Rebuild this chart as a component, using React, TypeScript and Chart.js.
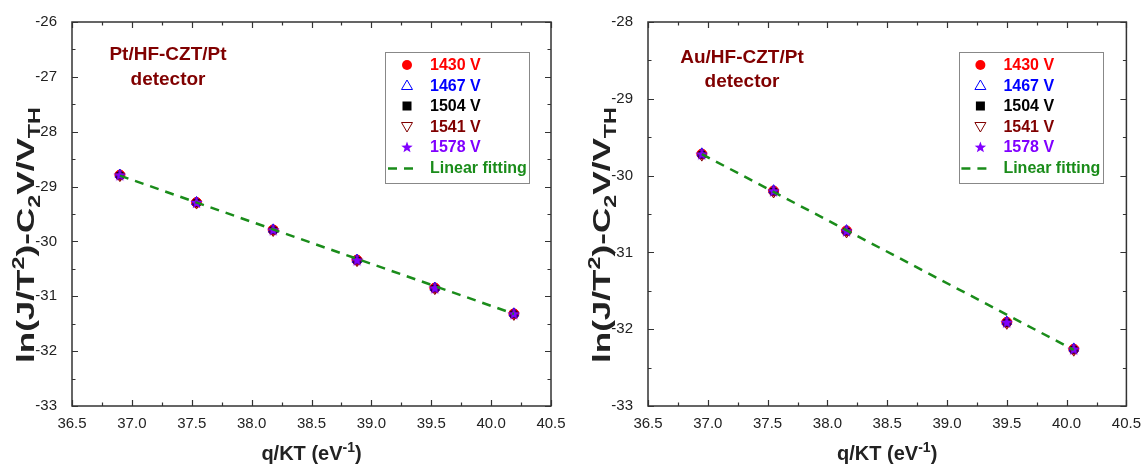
import React, { useEffect, useRef } from "react";
import { Chart, registerables } from "chart.js";

Chart.register(...registerables);

// ---------------- DATA ----------------
const seriesLabels = ["1430 V", "1467 V", "1504 V", "1541 V", "1578 V"];
const fitLabel = "Linear fitting";

// Left panel: Pt/HF-CZT/Pt detector
const leftX = [36.9, 37.54, 38.18, 38.88, 39.53, 40.19];
const leftY1430 = [-28.79, -29.29, -29.79, -30.34, -30.85, -31.32];
const leftY1467 = [-28.78, -29.28, -29.78, -30.33, -30.84, -31.31];
const leftY1504 = [-28.8, -29.3, -29.8, -30.35, -30.86, -31.33];
const leftY1541 = [-28.81, -29.31, -29.81, -30.36, -30.87, -31.34];
const leftY1578 = [-28.79, -29.29, -29.79, -30.34, -30.85, -31.32];
const leftFitX = [36.9, 40.19];
const leftFitY = [-28.8, -31.32];

// Right panel: Au/HF-CZT/Pt detector
const rightX = [36.95, 37.55, 38.16, 39.5, 40.06];
const rightY1430 = [-29.72, -30.2, -30.72, -31.91, -32.26];
const rightY1467 = [-29.71, -30.19, -30.71, -31.9, -32.25];
const rightY1504 = [-29.73, -30.21, -30.73, -31.92, -32.27];
const rightY1541 = [-29.74, -30.22, -30.74, -31.93, -32.28];
const rightY1578 = [-29.72, -30.2, -30.72, -31.91, -32.26];
const rightFitX = [36.95, 40.06];
const rightFitY = [-29.72, -32.27];

const xTicksMin = 36.5;
const xTicksMax = 40.5;
const leftYMin = -33;
const leftYMax = -26;
const rightYMin = -33;
const rightYMax = -28;

// ---------------- STYLE ----------------
const FONT = "'Liberation Sans', Arial, Helvetica, sans-serif";
const seriesColors = ["#ff0000", "#0000ff", "#000000", "#800000", "#8000ff"];
const fitColor = "#1a8c1a";
const annoColor = "#800000";

function makeStar(size: number, color: string) {
  const c = document.createElement("canvas");
  c.width = size;
  c.height = size;
  const g = c.getContext("2d")!;
  drawStar(g, size / 2, size / 2 + 0.5, size / 2, color);
  return c;
}

function drawStar(g: CanvasRenderingContext2D, cx: number, cy: number, R: number, color: string) {
  const r = R * 0.42;
  g.beginPath();
  for (let i = 0; i < 10; i++) {
    const a = -Math.PI / 2 + (i * Math.PI) / 5;
    const rr = i % 2 === 0 ? R : r;
    const px = cx + rr * Math.cos(a);
    const py = cy + rr * Math.sin(a);
    if (i === 0) g.moveTo(px, py);
    else g.lineTo(px, py);
  }
  g.closePath();
  g.fillStyle = color;
  g.fill();
}

function drawMarker(g: CanvasRenderingContext2D, idx: number, x: number, y: number) {
  const c = seriesColors[idx];
  g.save();
  g.lineWidth = 1;
  if (idx === 0) {
    g.beginPath();
    g.arc(x, y, 5, 0, Math.PI * 2);
    g.fillStyle = c;
    g.fill();
  } else if (idx === 1) {
    g.beginPath();
    g.moveTo(x, y - 5.5);
    g.lineTo(x + 5.5, y + 4);
    g.lineTo(x - 5.5, y + 4);
    g.closePath();
    g.strokeStyle = c;
    g.stroke();
  } else if (idx === 2) {
    g.fillStyle = c;
    g.fillRect(x - 4.5, y - 4.5, 9, 9);
  } else if (idx === 3) {
    g.beginPath();
    g.moveTo(x, y + 5.5);
    g.lineTo(x + 5.5, y - 4);
    g.lineTo(x - 5.5, y - 4);
    g.closePath();
    g.strokeStyle = c;
    g.stroke();
  } else {
    drawStar(g, x, y + 0.5, 6, c);
  }
  g.restore();
}

type Part = { t: string; s?: "sub" | "sup" };

function drawRich(
  g: CanvasRenderingContext2D,
  parts: Part[],
  cx: number,
  cy: number,
  size: number,
  color: string,
  targetWidth = 0
) {
  const small = Math.round(size * 0.68);
  const fontOf = (p: Part) => `bold ${p.s ? small : size}px ${FONT}`;
  let total = 0;
  const widths: number[] = [];
  for (const p of parts) {
    g.font = fontOf(p);
    const w = g.measureText(p.t).width;
    widths.push(w);
    total += w;
  }
  g.save();
  g.translate(cx, cy);
  if (targetWidth > 0) g.scale(targetWidth / total, 1);
  let x = -total / 2;
  g.fillStyle = color;
  g.textBaseline = "alphabetic";
  g.textAlign = "left";
  parts.forEach((p, i) => {
    g.font = fontOf(p);
    const dy = p.s === "sup" ? -size * 0.42 : p.s === "sub" ? size * 0.25 : 0;
    g.fillText(p.t, x, size * 0.35 + dy);
    x += widths[i];
  });
  g.restore();
}

type PanelCfg = {
  xs: number[];
  ys: number[][];
  fitX: number[];
  fitY: number[];
  yMin: number;
  yMax: number;
  axisWidth: number;
  padRight: number;
  anno: string[];
  annoX: number;
  annoY: number[];
  legendRightGap: number;
  legendSymDx: number;
  legendTextDx: number;
};

const panels: PanelCfg[] = [
  {
    xs: leftX,
    ys: [leftY1430, leftY1467, leftY1504, leftY1541, leftY1578],
    fitX: leftFitX,
    fitY: leftFitY,
    yMin: leftYMin,
    yMax: leftYMax,
    axisWidth: 72,
    padRight: 20,
    anno: ["Pt/HF-CZT/Pt", "detector"],
    annoX: 168,
    annoY: [55, 80],
    legendRightGap: 22,
    legendSymDx: 22,
    legendTextDx: 45,
  },
  {
    xs: rightX,
    ys: [rightY1430, rightY1467, rightY1504, rightY1541, rightY1578],
    fitX: rightFitX,
    fitY: rightFitY,
    yMin: rightYMin,
    yMax: rightYMax,
    axisWidth: 77,
    padRight: 15,
    anno: ["Au/HF-CZT/Pt", "detector"],
    annoX: 742 - 571,
    annoY: [58, 82],
    legendRightGap: 23,
    legendSymDx: 21,
    legendTextDx: 44,
  },
];

function Panel({ cfg }: { cfg: PanelCfg }) {
  const ref = useRef<HTMLCanvasElement>(null);
  useEffect(() => {
    const star = makeStar(13, seriesColors[4]);
    const pointStyles: any[] = ["circle", "triangle", "rect", "triangle", star];
    const rotations = [0, 0, 0, 180, 0];
    const radii = [5, 5.5, 4.5, 5.5, 6];
    const order = [5, 4, 3, 2, 1];
    const datasets: any[] = cfg.ys.map((ys, i) => ({
      label: seriesLabels[i],
      data: cfg.xs.map((x, j) => ({ x, y: ys[j] })),
      pointStyle: pointStyles[i],
      rotation: rotations[i],
      pointRadius: radii[i],
      pointBackgroundColor: i === 1 || i === 3 ? "rgba(0,0,0,0)" : seriesColors[i],
      pointBorderColor: seriesColors[i],
      pointBorderWidth: 1,
      showLine: false,
      order: order[i],
    }));
    datasets.push({
      label: fitLabel,
      data: cfg.fitX.map((x, j) => ({ x, y: cfg.fitY[j] })),
      showLine: true,
      borderColor: fitColor,
      borderWidth: 2.5,
      borderDash: [9, 7],
      pointRadius: 0,
      order: 0,
    });

    const decor = {
      id: "decor",
      afterDraw(chart: any) {
        const g: CanvasRenderingContext2D = chart.ctx;
        const a = chart.chartArea;
        const xs = chart.scales.x;
        const ys = chart.scales.y;
        g.save();
        // frame
        g.strokeStyle = "#333";
        g.lineWidth = 1.5;
        g.strokeRect(a.left, a.top, a.right - a.left, a.bottom - a.top);
        // ticks
        g.lineWidth = 1.2;
        g.beginPath();
        for (let v = xTicksMin; v <= xTicksMax + 1e-9; v += 0.25) {
          const px = Math.round(xs.getPixelForValue(v)) + 0.5;
          const major = Math.abs(v * 2 - Math.round(v * 2)) < 1e-6;
          const L = major ? 6 : 3.5;
          g.moveTo(px, a.bottom);
          g.lineTo(px, a.bottom - L);
          g.moveTo(px, a.top);
          g.lineTo(px, a.top + L);
        }
        for (let v = cfg.yMin; v <= cfg.yMax + 1e-9; v += 0.5) {
          const py = Math.round(ys.getPixelForValue(v)) + 0.5;
          const major = Math.abs(v - Math.round(v)) < 1e-6;
          const L = major ? 6 : 3.5;
          g.moveTo(a.left, py);
          g.lineTo(a.left + L, py);
          g.moveTo(a.right, py);
          g.lineTo(a.right - L, py);
        }
        g.stroke();

        // axis titles
        const cxPlot = (a.left + a.right) / 2;
        drawRich(g, [{ t: "q/KT (eV" }, { t: "-1", s: "sup" }, { t: ")" }], cxPlot, 453, 20, "#222");
        g.save();
        g.translate(a.left - 46, 235);
        g.rotate(-Math.PI / 2);
        drawRich(
          g,
          [
            { t: "ln(J/T" },
            { t: "2", s: "sup" },
            { t: ")-C" },
            { t: "2", s: "sub" },
            { t: "V/V" },
            { t: "TH", s: "sub" },
          ],
          0,
          0,
          24,
          "#222",
          256
        );
        g.restore();

        // annotation
        g.fillStyle = annoColor;
        g.font = `bold 19px ${FONT}`;
        g.textAlign = "center";
        g.textBaseline = "middle";
        cfg.anno.forEach((t, i) => g.fillText(t, cfg.annoX, cfg.annoY[i]));

        // legend
        const bw = 144;
        const bx = a.right - cfg.legendRightGap - bw;
        const by = 52.5;
        const bh = 131;
        g.fillStyle = "#fff";
        g.fillRect(bx, by, bw, bh);
        g.strokeStyle = "#888";
        g.lineWidth = 1;
        g.strokeRect(Math.round(bx) + 0.5, by, bw, bh);
        const rowY = [65, 85.5, 106, 126.5, 147, 167.5];
        const labelColors = [...seriesColors, fitColor];
        g.font = `bold 16px ${FONT}`;
        g.textAlign = "left";
        g.textBaseline = "middle";
        for (let i = 0; i < 6; i++) {
          const sy = rowY[i];
          const sx = bx + cfg.legendSymDx;
          if (i < 5) drawMarker(g, i, sx, sy);
          else {
            g.save();
            g.strokeStyle = fitColor;
            g.lineWidth = 2.5;
            g.setLineDash([9, 7]);
            g.beginPath();
            g.moveTo(sx - 19, sy + 1);
            g.lineTo(sx + 8, sy + 1);
            g.stroke();
            g.restore();
          }
          g.fillStyle = labelColors[i];
          g.fillText(i < 5 ? seriesLabels[i] : fitLabel, bx + cfg.legendTextDx, sy + 1);
        }
        g.restore();
      },
    };

    const chart = new Chart(ref.current!, {
      type: "scatter",
      data: { datasets },
      options: {
        animation: false,
        responsive: true,
        maintainAspectRatio: false,
        layout: { padding: { top: 22, right: cfg.padRight, left: 0, bottom: 0 } },
        plugins: { legend: { display: false }, tooltip: { enabled: false }, title: { display: false } },
        scales: {
          x: {
            type: "linear",
            min: xTicksMin,
            max: xTicksMax,
            grid: { display: false },
            border: { display: false },
            ticks: {
              stepSize: 0.5,
              padding: 1,
              color: "#222",
              font: { family: FONT, size: 15 },
              callback: (v: any) => Number(v).toFixed(1),
              maxRotation: 0,
            },
            afterFit: (s: any) => {
              s.height = 59;
            },
          },
          y: {
            type: "linear",
            min: cfg.yMin,
            max: cfg.yMax,
            grid: { display: false },
            border: { display: false },
            ticks: {
              stepSize: 1,
              padding: 7,
              color: "#222",
              font: { family: FONT, size: 15 },
            },
            afterFit: (s: any) => {
              s.width = cfg.axisWidth;
            },
          },
        },
      } as any,
      plugins: [decor],
    });
    return () => chart.destroy();
  }, [cfg]);
  return <canvas ref={ref} style={{ display: "block" }} />;
}

export default function App() {
  return (
    <div style={{ position: "fixed", left: 0, top: 0, width: 1142, height: 465, background: "#fff" }}>
      <div style={{ position: "absolute", left: 0, top: 0, width: 571, height: 465 }}>
        <Panel cfg={panels[0]} />
      </div>
      <div style={{ position: "absolute", left: 571, top: 0, width: 571, height: 465 }}>
        <Panel cfg={panels[1]} />
      </div>
    </div>
  );
}
